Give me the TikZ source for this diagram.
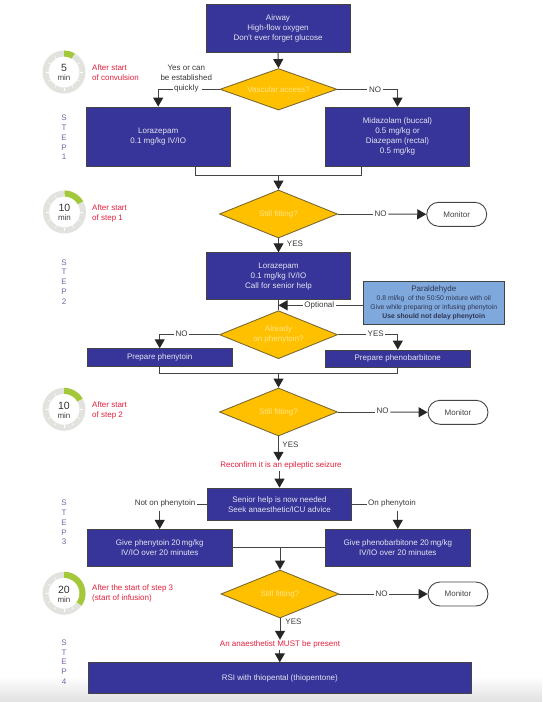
\documentclass[tikz,border=0pt]{standalone}
\usepackage{fontspec}
\setmainfont{Liberation Sans}
\usetikzlibrary{arrows.meta,shapes.geometric,shapes.misc}
\definecolor{boxblue}{HTML}{373599}
\definecolor{boxtext}{HTML}{E4E4F2}
\definecolor{ambre}{HTML}{FFC000}
\definecolor{ambretext}{HTML}{FFE588}
\definecolor{skyb}{HTML}{7FA8DC}
\definecolor{paratext}{HTML}{2F3650}
\definecolor{linegrey}{HTML}{444444}
\definecolor{redtxt}{HTML}{E2213F}
\definecolor{purp}{HTML}{8062A8}
\definecolor{ringgrey}{HTML}{E2E2DE}
\definecolor{ringgreen}{HTML}{A3C83A}
\tikzset{
  bodyfont/.style={font=\fontsize{8}{10}\selectfont},
  dbox/.style={draw=linegrey,line width=0.8pt,fill=boxblue,text=boxtext,align=center,bodyfont,inner sep=0pt},
  decis/.style={diamond,draw=linegrey!70!ambre,line width=0.9pt,fill=ambre,text=ambretext,align=center,bodyfont,inner sep=0pt,minimum width=118pt,minimum height=48pt,shape aspect=2.45},
  endbox/.style={rounded rectangle,draw=linegrey,line width=0.9pt,fill=white,text=linegrey,bodyfont,minimum width=60pt,minimum height=24pt,inner sep=0pt},
  lbl/.style={text=linegrey!85!black,bodyfont,align=center,inner sep=1.5pt},
  redlbl/.style={text=redtxt,bodyfont,align=left,inner sep=0pt,anchor=west},
  redmid/.style={text=redtxt,bodyfont,inner sep=1pt},
  steplbl/.style={text=purp,font=\fontsize{8}{9.8}\selectfont,align=center,inner sep=0pt},
  link/.style={draw=linegrey,line width=1pt},
  arr/.style={link,-{Triangle[length=9pt,width=10pt,color=black!85]}},
}
\newcommand{\mytimer}[5]{%
  \coordinate (#1) at (#2);
  \fill[ringgrey,even odd rule] (#1) circle[radius=21.5pt] (#1) circle[radius=15.5pt];
  \foreach \a in {0,30,...,330} \draw[white,line width=0.5pt] ([shift={(\a:15.5pt)}]#1) -- ([shift={(\a:18.5pt)}]#1);
  \fill[ringgreen] ([shift={(90:21.5pt)}]#1) arc[start angle=90,end angle=90-#3,radius=21.5pt]
     -- ([shift={(90-#3:15.5pt)}]#1) arc[start angle=90-#3,end angle=90,radius=15.5pt] -- cycle;
  \node[text=black!80,font=\fontsize{10.5}{11}\selectfont,inner sep=0pt] (#1num) at ([yshift=3.8pt]#1) {#4};
  \node[text=black!75,bodyfont,inner sep=0pt] (#1min) at ([yshift=-6pt]#1) {#5};
}
\begin{document}
\begin{tikzpicture}[x=1pt,y=-1pt]
\useasboundingbox (0,0) rectangle (542,702);
\fill[white] (0,0) rectangle (542,702);
\shade[top color=white,bottom color=black!12] (0,676) rectangle (542,702);

% timers
\mytimer{tA}{64,72}{30}{5}{min}
\mytimer{tB}{64.5,212}{60}{10}{min}
\mytimer{tC}{64,409.3}{60}{10}{min}
\mytimer{tD}{64,593.3}{125}{20}{min}

\node[redlbl] (rA) at (92,72.5) {After start\\of convulsion};
\node[redlbl] (rB) at (92,213.5) {After start\\of step 1};
\node[redlbl] (rC) at (92,410.5) {After start\\of step 2};
\node[redlbl] (rD) at (92,593.3) {After the start of step 3\\(start of infusion)};

\node[steplbl] (s1) at (64,137.5) {S\\T\\E\\P\\1};
\node[steplbl] (s2) at (64,282) {S\\T\\E\\P\\2};
\node[steplbl] (s3) at (64,522.5) {S\\T\\E\\P\\3};
\node[steplbl] (s4) at (64,662) {S\\T\\E\\P\\4};

% step 1
\node[dbox,minimum width=144pt,minimum height=48.7pt] (air) at (278,28.3) {Airway\\High-flow oxygen\\Don't ever forget glucose};
\node[decis,minimum width=117pt,minimum height=41.5pt,shape aspect=2.8] (d1) at (278.5,89.3) {Vascular access?};
\node[dbox,minimum width=143.5pt,minimum height=59.6pt] (lora) at (158.2,136.8) {Lorazepam\\0.1 mg/kg IV/IO};
\node[dbox,minimum width=144pt,minimum height=59.6pt] (mida) at (397.5,136.8) {Midazolam (buccal)\\0.5 mg/kg or\\Diazepam (rectal)\\0.5 mg/kg};
\node[lbl] (yesq) at (186.3,79) {Yes or can\\be established\\quickly};
\coordinate (yesqr) at (202,89.3);
\coordinate (yesql) at (173,89.3);
\node[lbl] (noA) at (375,89.3) {NO};
\coordinate (mergeA) at (278.5,175.5);
\node[decis] (d2) at (278.5,214) {Still fitting?};
\node[lbl] (noB) at (380.7,214) {NO};
\node[endbox] (monA) at (456.7,214.3) {Monitor};

% step 2
\node[dbox,minimum width=144pt,minimum height=47pt] (lorb) at (278.5,276.2) {Lorazepam\\0.1 mg/kg IV/IO\\Call for senior help};
\node[lbl] (yesB) at (295,243.5) {YES};
\node[draw=linegrey,line width=0.8pt,fill=skyb,text=paratext,align=center,inner sep=0pt,minimum width=141pt,minimum height=43.7pt,font=\fontsize{6.8}{9}\selectfont] (para) at (433.8,302.9) {{\fontsize{8}{9}\selectfont Paraldehyde}\\0.8 ml/kg\ \ of the 50:50 mixture with oil\\Give while preparing or infusing phenytoin\\\textbf{Use should not delay phenytoin}};
\node[lbl] (opt) at (319.3,305.3) {Optional};
\coordinate (optj) at (278.5,305.3);
\node[decis] (d3) at (278.5,334.7) {Already\\on phenytoin?};
\node[lbl] (noC) at (181.7,334) {NO};
\node[lbl] (yesC) at (375.7,334) {YES};
\node[dbox,minimum width=144.5pt,minimum height=17.3pt] (pphy) at (159.7,357.3) {Prepare phenytoin};
\node[dbox,minimum width=144.5pt,minimum height=17.3pt] (pphb) at (397.8,358.6) {Prepare phenobarbitone};
\coordinate (mergeB) at (278.5,373.7);
\node[decis] (d4) at (278.5,412) {Still fitting?};
\node[lbl] (noD) at (382.7,410.5) {NO};
\node[endbox] (monB) at (458,412.3) {Monitor};
\node[lbl] (yesD) at (290.5,445) {YES};
\node[redmid] (reco) at (281,465.7) {Reconfirm it is an epileptic seizure};

% step 3
\node[dbox,minimum width=144.5pt,minimum height=32.3pt] (seni) at (279.5,504.2) {Senior help is now needed\\Seek anaesthetic/ICU advice};
\node[lbl] (nonp) at (165,503.6) {Not on phenytoin};
\node[lbl] (onp) at (392,503.6) {On phenytoin};
\node[dbox,minimum width=144.5pt,minimum height=37pt] (gphy) at (159.7,547.8) {Give phenytoin 20\,mg/kg\\IV/IO over 20 minutes};
\node[dbox,minimum width=144.5pt,minimum height=37pt] (gphb) at (397.8,547.8) {Give phenobarbitone 20\,mg/kg\\IV/IO over 20 minutes};
\coordinate (mergeC) at (280,547.8);
\node[decis] (d5) at (280,594) {Still fitting?};
\node[lbl] (noE) at (381.7,594) {NO};
\node[endbox] (monC) at (458,594) {Monitor};
\node[lbl] (yesE) at (293.5,622) {YES};
\node[redmid] (anae) at (280,644.7) {An anaesthetist MUST be present};
\node[dbox,minimum width=382.3pt,minimum height=31pt] (rsi) at (279.8,678.2) {RSI with thiopental (thiopentone)};

% connectors
\draw[arr] (air.south) -- (d1.north);
\draw[link] (d1.west) -- (yesqr);
\draw[arr] (yesql) -| (lora.north);
\draw[link] (d1.east) -- (noA);
\draw[arr] (noA) -| (mida.north);
\draw[link] ([xshift=37.3pt]lora.south) |- (mergeA);
\draw[link] ([xshift=-35.8pt]mida.south) |- (mergeA);
\draw[arr] (mergeA) -- (d2.north);
\draw[link] (d2.east) -- (noB.west |- d2.east);
\draw[arr] (noB.east |- d2.east) -- (monA.west);
\draw[arr] (d2.south) -- (lorb.north);
\draw[link] (lorb.south) -- (d3.north);
\draw[link] (para.west |- opt) -- (opt);
\draw[arr] (opt) -- (optj);
\draw[link] (d3.west) -- (noC.east |- d3.west);
\draw[arr] (noC.west |- d3.west) -| (pphy.north);
\draw[link] (d3.east) -- (yesC.west |- d3.east);
\draw[arr] (yesC.east |- d3.east) -| (pphb.north);
\draw[link] (pphy.south) |- (mergeB);
\draw[link] (pphb.south) |- (mergeB);
\draw[arr] (mergeB) -- (d4.north);
\draw[link] (d4.east) -- (noD.west |- d4.east);
\draw[arr] (noD.east |- d4.east) -- (monB.west);
\draw[arr] (d4.south) -- (reco.north -| d4.south);
\draw[arr] (reco.south -| seni.north) -- (seni.north);
\draw[link] (seni.west) -- (nonp.east |- seni.west);
\draw[arr] ([yshift=-1.5pt]nonp.south -| gphy.north) -- (gphy.north);
\draw[link] (seni.east) -- (onp.west |- seni.east);
\draw[arr] ([yshift=-1.5pt]onp.south -| gphb.north) -- (gphb.north);
\draw[link] (gphy.east) -- (gphb.west);
\draw[arr] (mergeC) -- (d5.north);
\draw[link] (d5.east) -- (noE);
\draw[arr] (noE) -- (monC.west);
\draw[arr] (d5.south) -- (anae.north -| d5.south);
\draw[arr] (anae.south -| rsi.north) -- (rsi.north);
\end{tikzpicture}
\end{document}
